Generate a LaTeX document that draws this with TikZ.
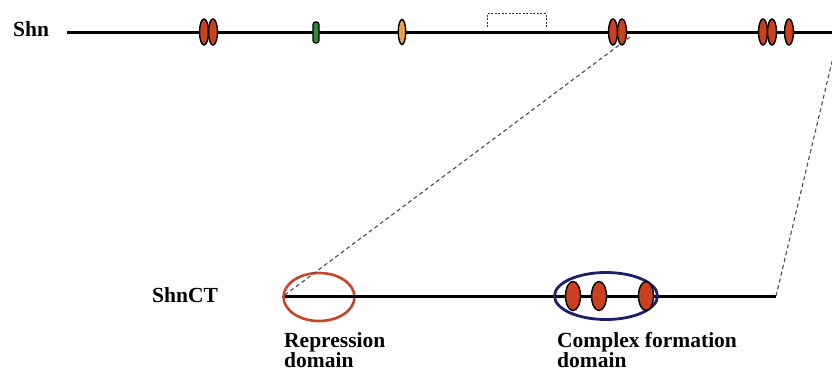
\documentclass[tikz,border=0pt]{standalone}
\usepackage{fontspec}
\setmainfont{Liberation Serif}
\usetikzlibrary{shapes.geometric}
\definecolor{domred}{HTML}{C9411E}
\definecolor{ringred}{HTML}{C6452B}
\definecolor{ringblue}{HTML}{1C1F6B}
\definecolor{siteorange}{HTML}{E9A24A}
\definecolor{sitegreen}{HTML}{2E8B38}
\tikzset{
  x=1pt, y=-1pt,
  backbone/.style={line width=3pt, black},
  site/.style={ellipse, draw=black, line width=1.4pt, fill=domred, minimum width=9pt, minimum height=26pt, inner sep=0pt},
  bigsite/.style={ellipse, draw=black, line width=1.4pt, fill=domred, minimum width=15pt, minimum height=29pt, inner sep=0pt},
  zoomline/.style={gray!60!black, line width=1.1pt, dash pattern=on 4pt off 3pt},
  lbl/.style={font=\bfseries\fontsize{21.5}{18.5}\selectfont, inner sep=0pt, align=left},
}
\begin{document}
\begin{tikzpicture}
\useasboundingbox (0,0) rectangle (832,372);
% top protein
\coordinate (topL) at (67,32);
\coordinate (topR) at (840,32);
\draw[backbone] (topL) -- (topR);
\node[lbl, anchor=base west] (shn) at (13,36) {Shn};
\node[site] (a1) at (204,32) {};
\node[site] (a2) at (213,32) {};
\node[draw=black, line width=1.2pt, fill=sitegreen, rounded corners=2.5pt, minimum width=6pt, minimum height=21pt, inner sep=0pt] (g1) at (316,32.5) {};
\node[site, fill=siteorange, minimum width=7.5pt, minimum height=25pt] (o1) at (402,32) {};
\node[site] (b1) at (613,32) {};
\node[site] (b2) at (622,32) {};
\node[site] (c1) at (763,32) {};
\node[site] (c2) at (772,32) {};
\node[site] (c3) at (789,32) {};
% dotted bracket
\draw[black!80, line width=0.9pt, dash pattern=on 2pt off 1.5pt] (487,27) -- (487,13.5) -- (546,13.5) -- (546,27);
% bottom protein
\coordinate (botL) at (285,296);
\coordinate (botR) at (776,296);
\node[lbl, anchor=base west] (shnct) at (152,302) {ShnCT};
\node[ellipse, draw=ringred, line width=2.6pt, minimum width=71pt, minimum height=48pt, inner sep=0pt] (rep) at (319,297) {};
\draw[backbone] (botL) -- (botR);
\node[ellipse, draw=ringblue, line width=2.8pt, minimum width=103pt, minimum height=47pt, inner sep=0pt] (cfd) at (606,296) {};
\node[bigsite] (d1) at (573,296) {};
\node[bigsite] (d2) at (599,296) {};
\node[bigsite] (d3) at (646,296) {};
% zoom lines
\coordinate (zl) at (630,37);
\coordinate (zr) at (836,45);
\draw[zoomline] (zl) -- (rep.west);
\draw[zoomline] (botR) -- (zr);
% labels
\node[lbl, anchor=base west] (replbl) at (284,367.5) {Repression\\domain};
\node[lbl, anchor=base west] (cfdlbl) at (557,367.5) {Complex formation\\domain};
\end{tikzpicture}
\end{document}
